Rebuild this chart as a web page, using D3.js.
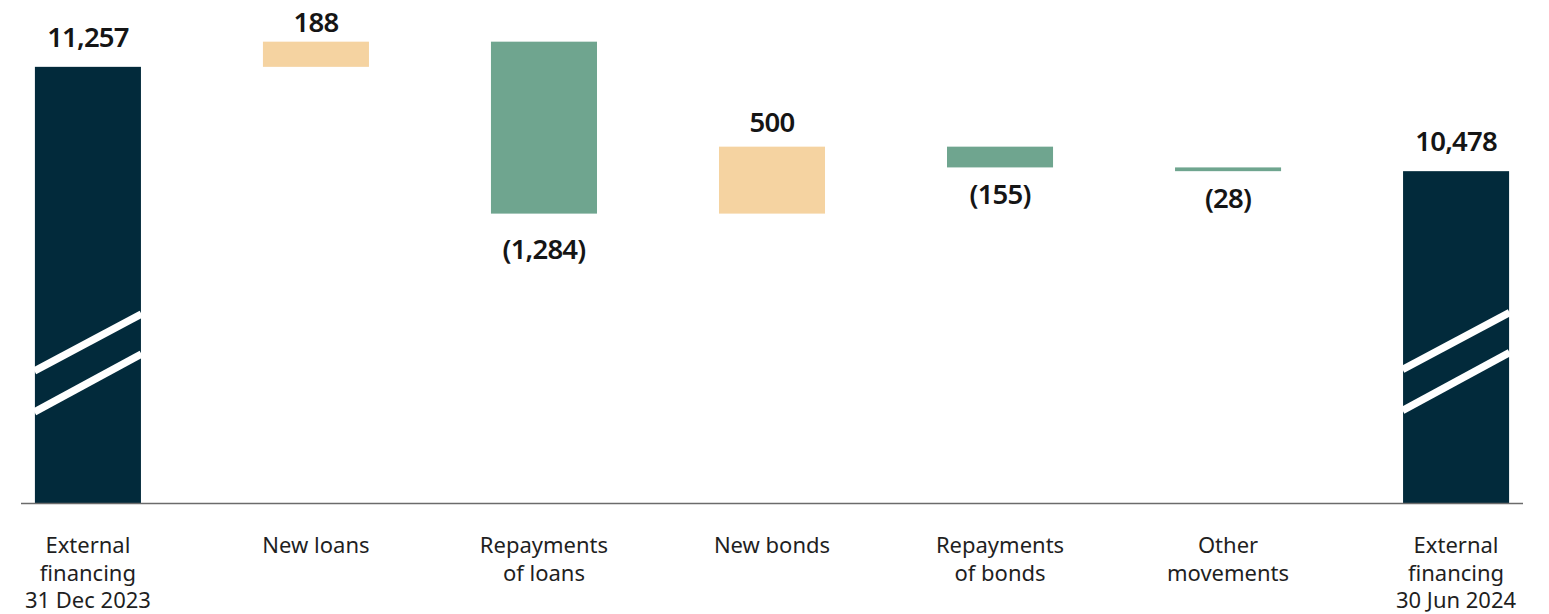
<!DOCTYPE html>
<html>
<head>
<meta charset="utf-8">
<script src="https://cdn.jsdelivr.net/npm/d3@7"></script>
<style>
  html, body { margin: 0; padding: 0; background: #ffffff; }
  svg { display: block; }
</style>
</head>
<body>
<svg id="chart" width="1549" height="614"></svg>
<script>
// Movement in external financing, 31 Dec 2023 to 30 Jun 2024
const categories = [
  ["External", "financing", "31 Dec 2023"],
  ["New loans"],
  ["Repayments", "of loans"],
  ["New bonds"],
  ["Repayments", "of bonds"],
  ["Other", "movements"],
  ["External", "financing", "30 Jun 2024"]
];
const kinds = ["total", "delta", "delta", "delta", "delta", "delta", "total"];
const values = [11257, 188, -1284, 500, -155, -28, 10478];
const valueLabels = ["11,257", "188", "(1,284)", "500", "(155)", "(28)", "10,478"];

// Truncated value axis (break marks drawn on the total bars)
const axisFloor = 8000;
const axisCeil = 11450;

const colors = { total: "#022a3b", up: "#f5d3a1", down: "#6fa58f" };

// Running totals for the waterfall
let running = 0;
const bars = values.map((v, i) => {
  let y0, y1;
  if (kinds[i] === "total") { y0 = axisFloor; y1 = v; running = v; }
  else { y0 = running; y1 = running + v; running = y1; }
  return { i, v, kind: kinds[i], lo: Math.min(y0, y1), hi: Math.max(y0, y1), label: valueLabels[i], cat: categories[i] };
});

const svg = d3.select("#chart");
const x = d3.scaleBand().domain(d3.range(values.length)).range([21, 1523]).paddingInner(0.535).paddingOuter(0.061);
const y = d3.scaleLinear().domain([axisFloor, axisCeil]).range([503, 41]);

const fill = d => d.kind === "total" ? colors.total : (d.v >= 0 ? colors.up : colors.down);

// Bars
svg.append("g").selectAll("rect").data(bars).join("rect")
  .attr("x", d => x(d.i))
  .attr("width", x.bandwidth())
  .attr("y", d => y(d.hi))
  .attr("height", d => Math.max(3, y(d.lo) - y(d.hi)))
  .attr("fill", fill);

// Break marks on the total bars
const breaks = svg.append("g");
bars.filter(d => d.kind === "total").forEach(d => {
  const x0 = x(d.i), x1 = x0 + x.bandwidth();
  const base = y(axisFloor);
  [[132, 189], [91, 149]].forEach(([l, r]) => {
    breaks.append("line")
      .attr("x1", x0 - 0.5).attr("y1", base - l + (d.i ? -1.5 : 0))
      .attr("x2", x1 + 0.5).attr("y2", base - r + (d.i ? -1.5 : 0))
      .attr("stroke", "#ffffff").attr("stroke-width", 7.5);
  });
});

// Baseline
svg.append("line")
  .attr("x1", 21).attr("x2", 1523)
  .attr("y1", y(axisFloor) + 0.5).attr("y2", y(axisFloor) + 0.5)
  .attr("stroke", "#6b6b6b").attr("stroke-width", 1.5);

// Value labels
svg.append("g").selectAll("text").data(bars).join("text")
  .attr("x", d => x(d.i) + x.bandwidth() / 2)
  .attr("y", d => {
    if (d.kind === "total") return y(d.hi) - 20;
    if (d.v >= 0) return Math.max(y(d.hi) - 15, 32);
    return y(d.lo) + (y(d.lo) - y(d.hi) > 100 ? 45 : 37);
  })
  .attr("text-anchor", "middle")
  .attr("font-family", "'Noto Sans', sans-serif")
  .attr("font-weight", 600)
  .attr("font-size", 27.5)
  .attr("letter-spacing", -0.8)
  .attr("fill", "#151515")
  .text(d => d.label);

// Category labels
const cat = svg.append("g").selectAll("text").data(bars).join("text")
  .attr("x", d => x(d.i) + x.bandwidth() / 2)
  .attr("y", 553)
  .attr("text-anchor", "middle")
  .attr("font-family", "'Noto Sans', sans-serif")
  .attr("font-size", 22)
  .attr("fill", "#1f1f1f");
cat.selectAll("tspan").data(d => d.cat.map(t => ({ t, cx: x(d.i) + x.bandwidth() / 2 }))).join("tspan")
  .attr("x", t => t.cx)
  .attr("dy", (t, j) => j === 0 ? 0 : 27.5)
  .text(t => t.t);
</script>
</body>
</html>
